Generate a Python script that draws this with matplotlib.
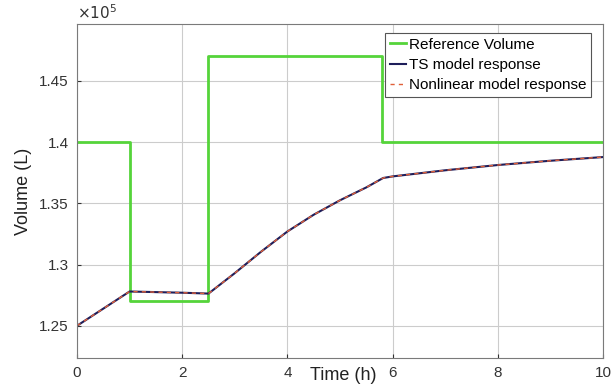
import matplotlib.pyplot as plt

plt.rcParams['font.family'] = ['Liberation Sans', 'DejaVu Sans']

# reference volume set-point (x 1e5 L), step changes
ref_t = [0, 1, 1, 2.5, 2.5, 5.8, 5.8, 10]
ref_v = [1.40, 1.40, 1.27, 1.27, 1.47, 1.47, 1.40, 1.40]

# model responses (x 1e5 L)
resp_t = [0, 1, 1.5, 2, 2.5, 3, 3.5, 4, 4.5, 5, 5.5, 5.82, 6, 7, 8, 9, 10]
ts_v = [1.250, 1.278, 1.2775, 1.277, 1.2763, 1.293, 1.3105, 1.327, 1.3407,
        1.3525, 1.363, 1.3707, 1.372, 1.377, 1.3813, 1.3848, 1.3878]
nl_v = [1.250, 1.278, 1.2775, 1.277, 1.2763, 1.293, 1.3105, 1.327, 1.3407,
        1.3525, 1.363, 1.3707, 1.372, 1.377, 1.3813, 1.3848, 1.3878]

yticks = [1.25, 1.3, 1.35, 1.4, 1.45]
ytick_labels = ['1.25', '1.3', '1.35', '1.4', '1.45']
xticks = [0, 2, 4, 6, 8, 10]

fig = plt.figure(figsize=(6.14, 3.87), dpi=100)
ax = fig.add_axes([0.1254, 0.075, 0.8566, 0.863])

ax.plot(ref_t, ref_v, color='#55d43a', lw=2.0, label='Reference Volume')
ax.plot(resp_t, ts_v, color='#1e1e5a', lw=1.5, label='TS model response')
ax.plot(resp_t, nl_v, color='#e0603a', lw=1.0, ls=(0, (3, 3)),
        label='Nonlinear model response')

ax.set_xlim(0, 10)
ax.set_ylim(1.2237, 1.4965)
ax.set_xticks(xticks)
ax.set_yticks(yticks)
ax.set_yticklabels(ytick_labels)
ax.tick_params(direction='in', labelsize=11, colors='#333333', length=3)
ax.tick_params(axis='x', pad=6)
ax.tick_params(axis='y', pad=6)
ax.grid(True, color='#cccccc', lw=0.8)
for s in ax.spines.values():
    s.set_color('#7a7a7a')
    s.set_linewidth(0.8)

ax.set_xlabel('Time (h)', fontsize=13, color='#222222')
ax.xaxis.set_label_coords(0.506, -0.051)
ax.xaxis.label.set_va('center')
ax.set_ylabel('Volume (L)', fontsize=13, color='#222222')
ax.yaxis.set_label_coords(-0.086, 0.5)

ax.text(0.0, 1.005, r'$\times10^5$', transform=ax.transAxes, fontsize=11,
        color='#333333', ha='left', va='bottom')

leg = ax.legend(loc='upper right', bbox_to_anchor=(0.977, 0.973), fontsize=11,
                handlelength=1.1, handletextpad=0.15, borderpad=0.3,
                labelspacing=0.42, fancybox=False, framealpha=1,
                edgecolor='#555555', borderaxespad=0)
leg.get_frame().set_linewidth(0.8)

fig.savefig('out.png', dpi=100)
